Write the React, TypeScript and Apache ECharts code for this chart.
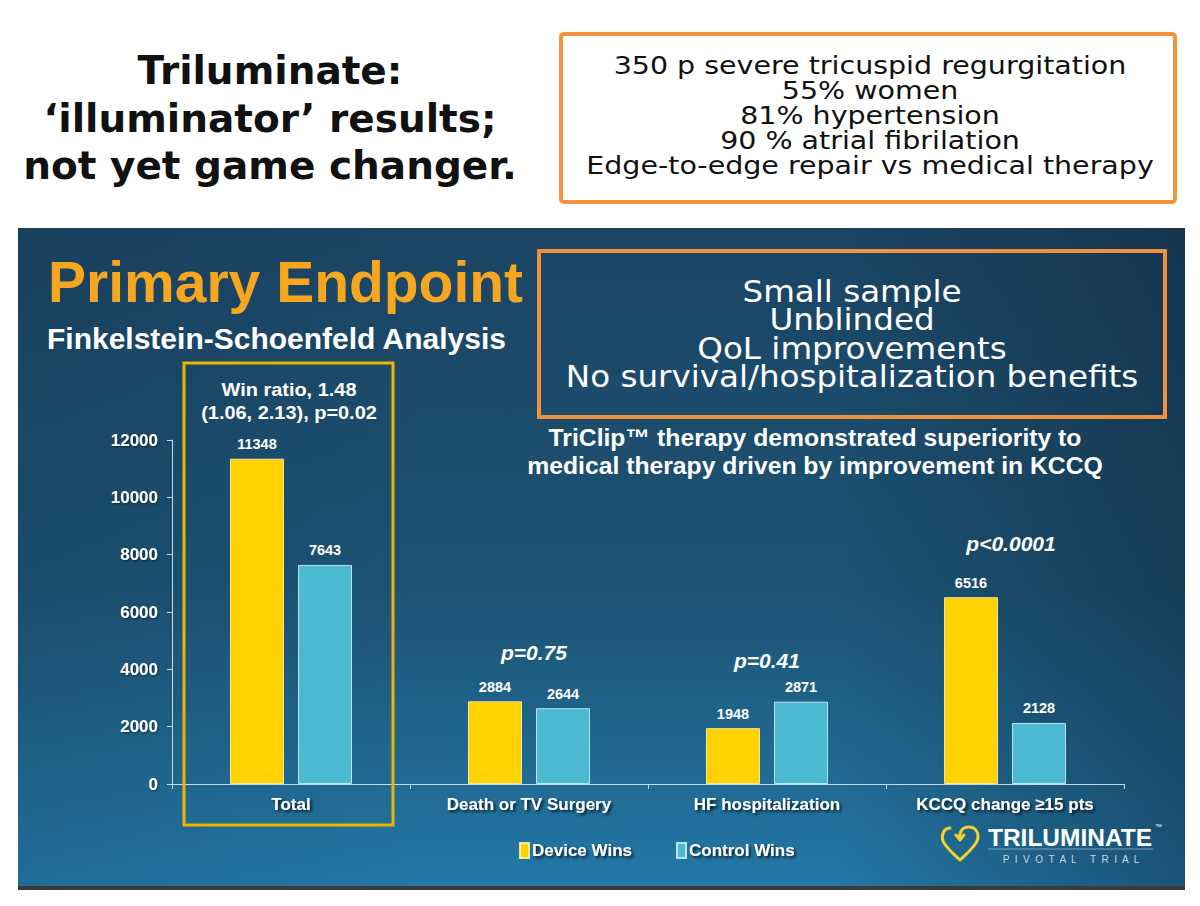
import React, { useEffect, useRef } from 'react';
import * as echarts from 'echarts';

// ---------- data ----------
const categories = ['Total', 'Death or TV Surgery', 'HF hospitalization', 'KCCQ change ≥15 pts'];
const deviceWins = [11348, 2884, 1948, 6516];
const controlWins = [7643, 2644, 2871, 2128];
const seriesNames = ['Device Wins', 'Control Wins'];
const yMin = 0;
const yMax = 12000;
const yInterval = 2000;

const headlineLines = ['Triluminate:', '‘illuminator’ results;', 'not yet game changer.'];
const studyFacts = [
  '350 p severe tricuspid regurgitation',
  '55% women',
  '81% hypertension',
  '90 % atrial fibrilation',
  'Edge-to-edge repair vs medical therapy',
];
const caveats = ['Small sample', 'Unblinded', 'QoL improvements', 'No survival/hospitalization benefits'];
const slideTitle = 'Primary Endpoint';
const slideSubtitle = 'Finkelstein-Schoenfeld Analysis';
const winRatioLines = ['Win ratio, 1.48', '(1.06, 2.13), p=0.02'];
const conclusionLines = ['TriClip™ therapy demonstrated superiority to', 'medical therapy driven by improvement in KCCQ'];
const pValueTexts = ['p=0.75', 'p=0.41', 'p<0.0001'];

const HEART_PATH =
  'M 9 3 C 3 3 0 10 2 16 C 5 23 13 29 19 35 C 25 29 33 23 36 16 C 39 9 35 2 28 2 C 21 2 18 7 19 14 M 15 10 L 19 15 L 23 10';
try {
  echarts.graphic.registerShape('trilHeart', echarts.graphic.extendPath(HEART_PATH, {}) as any);
} catch (e) {
  /* ignore */
}

const YELLOW = '#ffd200';
const CYAN = '#4bb9d1';
const SHADOW = 'rgba(0,0,0,0.75)';
const ARIAL = '"Liberation Sans", Arial, sans-serif';
const COMIC = '"DejaVu Sans", sans-serif';

export default function App() {
  const ref = useRef<HTMLDivElement>(null);

  useEffect(() => {
    if (!ref.current) return;
    const chart = echarts.init(ref.current, undefined, { renderer: 'svg' });

    const txt = (text: string, x: number, y: number, font: string, fill: string, extra: any = {}, el: any = {}) => ({
      type: 'text',
      z: 50,
      x,
      y,
      ...el,
      style: {
        text,
        x: 0,
        y: 0,
        font,
        fill,
        align: 'center',
        verticalAlign: 'middle',
        ...extra,
      },
    });
    const shadow = { shadowColor: SHADOW, shadowBlur: 3, shadowOffsetX: 2, shadowOffsetY: 2 };

    const graphics: any[] = [
      // slide panel background
      {
        type: 'rect',
        z: -20,
        shape: { x: 18, y: 228, width: 1167, height: 662 },
        style: { fill: '#3a3a3a' },
      },
      {
        type: 'rect',
        z: -19,
        shape: { x: 18, y: 228, width: 1167, height: 658 },
        style: {
          fill: new echarts.graphic.LinearGradient(0, 0, 0, 1, [
            { offset: 0, color: '#1b4463' },
            { offset: 0.55, color: '#1d5374' },
            { offset: 1, color: '#2378a7' },
          ]),
        },
      },
      {
        type: 'rect',
        z: -18,
        shape: { x: 18, y: 228, width: 1167, height: 658 },
        style: {
          fill: new echarts.graphic.LinearGradient(0, 0, 1, 0, [
            { offset: 0, color: 'rgba(12,30,48,0.12)' },
            { offset: 0.35, color: 'rgba(12,30,48,0)' },
            { offset: 0.7, color: 'rgba(12,30,48,0)' },
            { offset: 1, color: 'rgba(12,30,48,0.4)' },
          ]),
        },
      },
      // top-left headline
      txt(headlineLines.join('\n'), 270, 118, `bold 39px ${COMIC}`, '#111', { lineHeight: 47.5 }),
      // top-right orange box
      {
        type: 'rect',
        z: 40,
        shape: { x: 561, y: 34, width: 614, height: 168, r: 3 },
        style: { fill: '#fff', stroke: '#f4923e', lineWidth: 4 },
      },
      txt(studyFacts.join('\n'), 870, 115, `25px ${COMIC}`, '#111', { lineHeight: 25 }, { scaleX: 1.14 }),
      // slide titles
      txt(slideTitle, 48, 282, `bold 57px ${ARIAL}`, '#f7a71f', {
        align: 'left',
        ...shadow,
        shadowBlur: 4,
        shadowOffsetX: 3,
        shadowOffsetY: 3,
      }),
      txt(slideSubtitle, 47, 338, `bold 30px ${ARIAL}`, '#ffffff', { align: 'left', ...shadow }),
      // caveat orange box
      {
        type: 'rect',
        z: 40,
        shape: { x: 539, y: 251, width: 626, height: 166 },
        style: { fill: 'none', stroke: '#f0913d', lineWidth: 4 },
      },
      txt(caveats.join('\n'), 852, 334, `30px ${COMIC}`, '#ffffff', { lineHeight: 28.5 }, { scaleX: 1.085 }),
      // highlight box around Total
      {
        type: 'rect',
        z: 40,
        shape: { x: 184, y: 363, width: 209, height: 462 },
        style: { fill: 'none', stroke: '#f0b400', lineWidth: 3 },
      },
      txt(winRatioLines.join('\n'), 289, 400.5, `bold 19px ${ARIAL}`, '#ffffff', { lineHeight: 23, ...shadow }, { scaleX: 1.05 }),
      // conclusion
      txt(conclusionLines.join('\n'), 815, 452, `bold 24px ${ARIAL}`, '#ffffff', { lineHeight: 28, ...shadow }, { scaleX: 1.03 }),
      // p-values (annotations)
      txt(pValueTexts[0], 534, 652, `italic bold 21px ${ARIAL}`, '#ffffff', shadow),
      txt(pValueTexts[1], 767, 660, `italic bold 21px ${ARIAL}`, '#ffffff', shadow),
      txt(pValueTexts[2], 1011, 543, `italic bold 21px ${ARIAL}`, '#ffffff', shadow),
      // logo
      {
        type: 'trilHeart',
        z: 50,
        x: 941,
        y: 825,
        style: { fill: 'none', stroke: '#f2d32b', lineWidth: 3, lineCap: 'round', lineJoin: 'round' },
      },
      txt('TRILUMINATE', 988, 838, `bold 24px ${ARIAL}`, '#ffffff', { align: 'left' }, { scaleX: 1.02 }),
      txt('™', 1155, 826, `7px ${ARIAL}`, '#ffffff', { align: 'left' }),
      {
        type: 'line',
        z: 50,
        shape: { x1: 988, y1: 849, x2: 1153, y2: 849 },
        style: { stroke: '#7f9fb6', lineWidth: 1 },
      },
      txt('P  I  V  O  T  A  L     T  R  I  A  L', 1071, 859, `10px ${ARIAL}`, '#c9d6df'),
    ];

    chart.setOption({
      animation: false,
      backgroundColor: '#ffffff',
      textStyle: { fontFamily: ARIAL },
      grid: { left: 172, right: 76, top: 440, bottom: 122, containLabel: false, outerBoundsMode: 'none' } as any,
      legend: {
        data: seriesNames,
        left: 514,
        top: 837,
        icon: 'rect',
        itemWidth: 9,
        itemHeight: 15,
        itemGap: 44,
        textStyle: {
          color: '#ffffff',
          fontWeight: 'bold',
          fontSize: 17,
          fontFamily: ARIAL,
          padding: [0, 0, 0, -2],
          textShadowColor: SHADOW,
          textShadowBlur: 3,
          textShadowOffsetX: 2,
          textShadowOffsetY: 2,
        },
      },
      xAxis: {
        type: 'category',
        data: categories,
        axisLine: { lineStyle: { color: '#c2d9e6', width: 1 } },
        axisTick: { show: true, length: 5, lineStyle: { color: '#c2d9e6' } },
        axisLabel: {
          color: '#ffffff',
          fontWeight: 'bold',
          fontSize: 17,
          margin: 12,
          textShadowColor: SHADOW,
          textShadowBlur: 3,
          textShadowOffsetX: 2,
          textShadowOffsetY: 2,
        },
      },
      yAxis: {
        type: 'value',
        min: yMin,
        max: yMax,
        interval: yInterval,
        axisLine: { show: true, lineStyle: { color: '#c2d9e6', width: 1 } },
        axisTick: { show: true, length: 5, lineStyle: { color: '#c2d9e6' } },
        splitLine: { show: false },
        axisLabel: {
          color: '#ffffff',
          fontWeight: 'bold',
          fontSize: 17,
          margin: 14,
          formatter: (v: number) => String(v),
          textShadowColor: 'rgba(0,0,0,0.5)',
          textShadowBlur: 2,
          textShadowOffsetX: 1,
          textShadowOffsetY: 1,
        },
      },
      series: [
        {
          name: seriesNames[0],
          type: 'bar',
          data: deviceWins,
          barWidth: 54,
          barGap: '26%',
          itemStyle: { color: YELLOW, borderColor: 'rgba(255,240,170,0.9)', borderWidth: 1 },
          label: { show: true, position: 'top', distance: 7, color: '#ffffff', fontWeight: 'bold', fontSize: 14.5 },
        },
        {
          name: seriesNames[1],
          type: 'bar',
          data: controlWins,
          barWidth: 54,
          barGap: '26%',
          itemStyle: { color: CYAN, borderColor: 'rgba(200,240,250,0.9)', borderWidth: 1 },
          label: { show: true, position: 'top', distance: 7, color: '#ffffff', fontWeight: 'bold', fontSize: 14.5 },
        },
      ],
      graphic: { elements: graphics },
    });

    return () => chart.dispose();
  }, []);

  return (
    <div
      ref={ref}
      style={{ position: 'fixed', left: 0, top: 0, width: 1200, height: 906, background: '#fff' }}
    />
  );
}
